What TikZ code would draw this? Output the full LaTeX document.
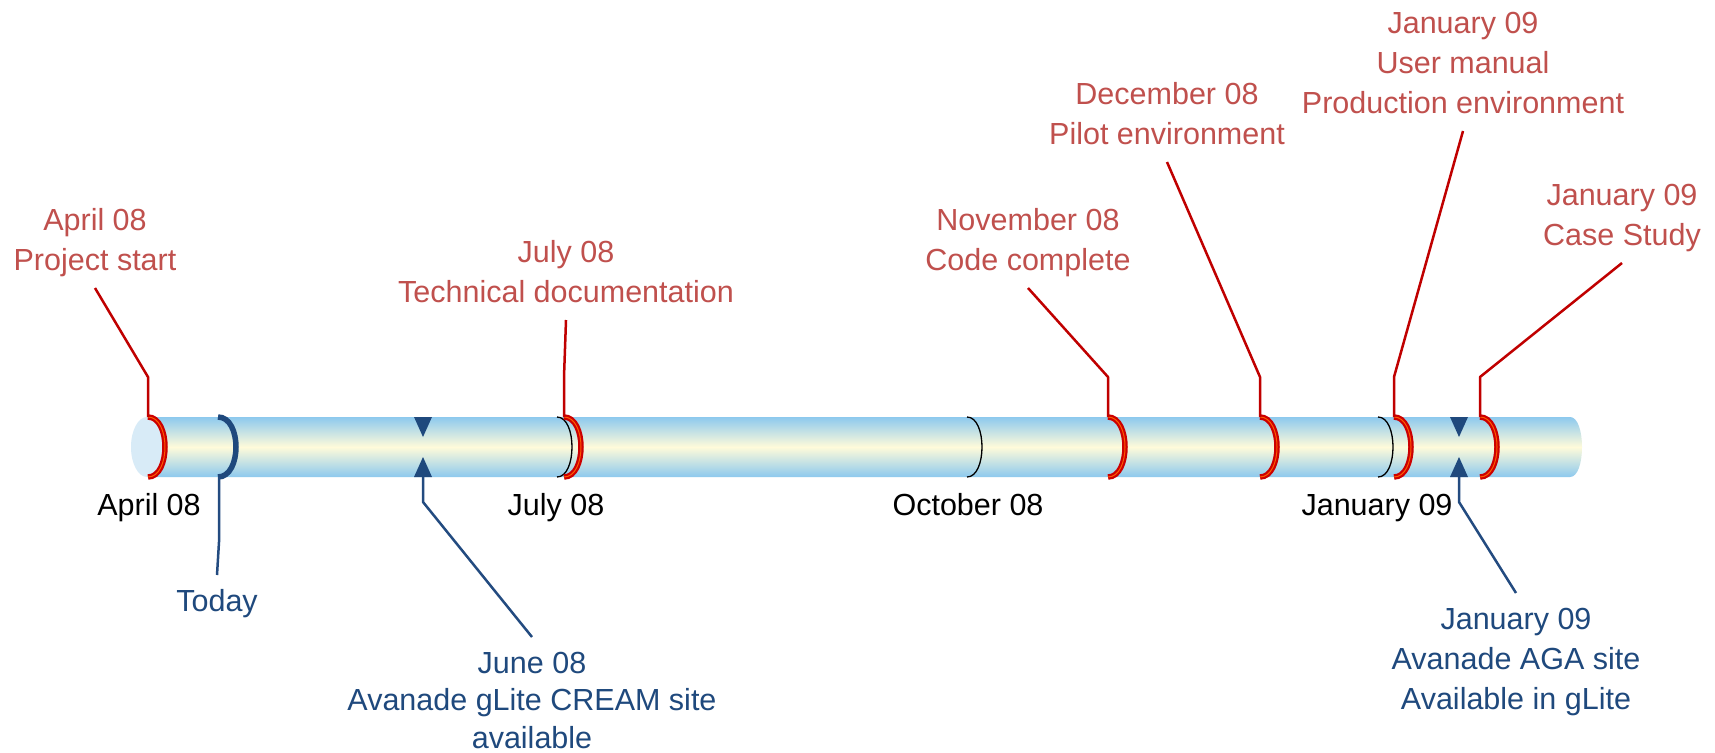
\documentclass[tikz,border=0pt]{standalone}
\usepackage{fontspec}
\setmainfont{Liberation Sans}
\definecolor{lblred}{HTML}{C0504D}
\definecolor{leadred}{HTML}{C00000}
\definecolor{arcred}{HTML}{CC0000}
\definecolor{arcorange}{HTML}{FF5A00}
\definecolor{lblblue}{HTML}{1F497D}
\definecolor{leadblue}{HTML}{234B80}
\definecolor{tubeblue}{HTML}{8DC9EE}
\definecolor{tubecream}{HTML}{FFFBDA}
\definecolor{tubeface}{HTML}{D8EBF7}
\newcommand\lsx{\rule[-12pt]{0pt}{40pt}}
\newcommand\lblfont{\fontsize{30.5}{40}\selectfont}
\newcommand\lblfontb{\fontsize{30.5}{37.5}\selectfont}
\newcommand\tubeArc[3]{\draw[#3] (#1,417) .. controls ({#1+1.333*#2},417) and ({#1+1.333*#2},477) .. (#1,477);}
\tikzset{
  toplbl/.style={font=\lblfont, text=lblred, align=center, inner sep=5pt, anchor=south},
  botlbl/.style={font=\lblfont, text=lblblue, align=center, inner sep=8pt, anchor=north},
  botlbltight/.style={font=\lblfontb, text=lblblue, align=center, inner sep=0pt, anchor=north},
  axlbl/.style={font=\lblfont, text=black, inner sep=0pt, anchor=base},
  redlead/.style={draw=leadred, line width=2.5pt, line join=round},
  bluelead/.style={draw=leadblue, line width=2.5pt, line join=round},
  redarcout/.style={draw=arcred, line width=5.5pt},
  redarcin/.style={draw=arcorange, line width=1pt},
  bluearc/.style={draw=lblblue, line width=5.5pt},
  blackarc/.style={draw=black, line width=1.3pt},
  tri/.style={fill=lblblue},
}
\begin{document}
\begin{tikzpicture}[x=1pt,y=-1pt]
\fill[white] (0,0) rectangle (1715,752);
\useasboundingbox (0,0) rectangle (1715,752);
% tube
\shade[top color=tubeblue, bottom color=tubeblue, middle color=tubecream]
  (147,417) -- (1570,417) .. controls (1586,417) and (1586,477) .. (1570,477) -- (147,477) -- cycle;
\fill[tubeface] (147,447) ellipse [x radius=16, y radius=30];
% arc anchor coordinates
\coordinate (aApr) at (148,417);
\coordinate (aToday) at (219,477);
\coordinate (tJune) at (423,477);
\coordinate (aJul) at (564,417);
\coordinate (aNov) at (1108,417);
\coordinate (aDec) at (1260,417);
\coordinate (aJan) at (1394,417);
\coordinate (tAga) at (1459,477);
\coordinate (aCase) at (1480,417);
% black month arcs
\tubeArc{557}{15}{blackarc}
\tubeArc{967}{15}{blackarc}
\tubeArc{1378}{15}{blackarc}
% today arc
\tubeArc{218}{18}{bluearc}
% red milestone arcs
\foreach \xx in {148,564,1108,1260,1394,1480}{
  \tubeArc{\xx}{17}{redarcout}
  \tubeArc{\xx}{17}{redarcin}
}
% triangles
\fill[tri] (414,417) -- (432,417) -- (423,437) -- cycle;
\fill[tri] (414,477) -- (432,477) -- (423,457) -- cycle;
\fill[tri] (1450,417) -- (1468,417) -- (1459,437) -- cycle;
\fill[tri] (1450,477) -- (1468,477) -- (1459,457) -- cycle;
% axis labels
\node[axlbl] (xApr) at (149,515) {April 08};
\node[axlbl] (xJul) at (556,515) {July 08};
\node[axlbl] (xOct) at (968,515) {October 08};
\node[axlbl] (xJan) at (1377,515) {January 09};
% top labels
\node[toplbl] (lApr) at (95,288) {\lsx April 08\\\lsx Project start};
\node[toplbl] (lJul) at (566,320) {\lsx July 08\\\lsx Technical documentation};
\node[toplbl] (lNov) at (1028,288) {\lsx November 08\\\lsx Code complete};
\node[toplbl] (lDec) at (1167,162) {\lsx December 08\\\lsx Pilot environment};
\node[toplbl] (lJan) at (1463,131) {\lsx January 09\\\lsx User manual\\\lsx Production environment};
\node[toplbl] (lCase) at (1622,263) {\lsx January 09\\\lsx Case Study};
% bottom labels
\node[botlbl] (lToday) at (217,575) {\lsx Today};
\node[botlbltight] (lJune) at (532,637) {\rule{0pt}{36pt}June 08\\Avanade gLite CREAM site\\available};
\node[botlbl] (lAga) at (1516,593) {\lsx January 09\\\lsx Avanade AGA site\\\lsx Available in gLite};
% red leaders
\draw[redlead] (lApr.south) -- ([yshift=40pt]aApr) -- (aApr);
\draw[redlead] (lJul.south) -- ([yshift=40pt]aJul) -- (aJul);
\draw[redlead] (lNov.south) -- ([yshift=40pt]aNov) -- (aNov);
\draw[redlead] (lDec.south) -- ([yshift=40pt]aDec) -- (aDec);
\draw[redlead] (lJan.south) -- ([yshift=40pt]aJan) -- (aJan);
\draw[redlead] (lCase.south) -- ([yshift=40pt]aCase) -- (aCase);
% blue leaders
\draw[bluelead] (aToday) -- ([yshift=-65pt]aToday) -- (lToday.north);
\draw[bluelead] (tJune) -- ([yshift=-25pt]tJune) -- (lJune.north);
\draw[bluelead] (tAga) -- ([yshift=-25pt]tAga) -- (lAga.north);
\end{tikzpicture}
\end{document}
